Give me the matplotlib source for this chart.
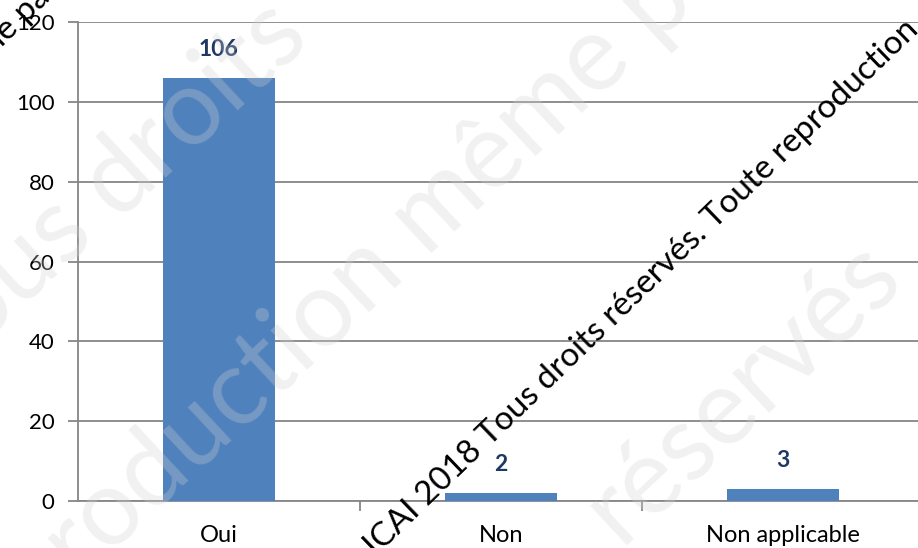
import numpy as np
import matplotlib
matplotlib.use("Agg")
from matplotlib import pyplot as plt

# Data
categories = ["Oui", "Non", "Non applicable"]
values = [106, 2, 3]
y_ticks = [0, 20, 40, 60, 80, 100, 120]

BAR_COLOR = "#4F81BD"
LABEL_COLOR = "#1F3864"
GRID_COLOR = "#868686"

plt.rcParams['font.family'] = ['Lato', 'DejaVu Sans']

fig = plt.figure(figsize=(9.18, 5.48), dpi=100)
ax = fig.add_axes([78 / 918., 47 / 548., 1 - 78 / 918., (501 - 22) / 548.])

x = np.arange(len(categories))
bars = ax.bar(x, values, width=0.4, color=BAR_COLOR, zorder=3)

for xi, v in zip(x, values):
    ax.annotate(str(v), (xi, v), xytext=(0, 13), textcoords="offset points",
                ha="center", va="bottom", fontsize=16.5, fontweight="bold",
                color=LABEL_COLOR, zorder=5)

ax.set_ylim(0, 120)
ax.set_xlim(-0.5, (918 - 78) / 282. - 0.5)
ax.set_yticks(y_ticks)
ax.yaxis.grid(True, color=GRID_COLOR, linewidth=1.3, zorder=1)
ax.set_axisbelow(True)

# category labels at centers, tick marks at boundaries
ax.set_xticks(x)
ax.set_xticklabels(categories, fontsize=17)
ax.set_xticks([0.5, 1.5], minor=True)
ax.tick_params(axis="x", which="major", length=0, pad=17)
ax.tick_params(axis="x", which="minor", length=7, width=1.3, color=GRID_COLOR)
ax.tick_params(axis="y", length=7, width=1.3, color=GRID_COLOR, labelsize=16, pad=10)

for side in ["top", "right"]:
    ax.spines[side].set_visible(False)
for side in ["left", "bottom"]:
    ax.spines[side].set_color(GRID_COLOR)
    ax.spines[side].set_linewidth(1.3)

# faint background watermark (pieces share an anchor: right part / left part)
faint = dict(fontsize=76, color="#d2d2d2", alpha=0.3, rotation=43,
             rotation_mode="anchor", va="baseline", zorder=4,
             transform=fig.transFigure)
fig.text(0.465, 0.529, "reproduction ", ha="right", **faint)
fig.text(0.465, 0.529, "même partielle", ha="left", **faint)
fig.text(0.127, 0.599, "Tous ", ha="right", **faint)
fig.text(0.127, 0.599, "droits", ha="left", **faint)
fig.text(0.675, 0.005, "réservés", ha="left", **faint)

# black diagonal watermark
wm = dict(fontsize=24, color="black", rotation=44, rotation_mode="anchor",
          va="baseline", zorder=6, transform=fig.transFigure)
fig.text(0.466, 0.075, "ICAI ", ha="right", **wm)
fig.text(0.466, 0.075, "2018 Tous droits réservés. Toute reproduction", ha="left", **wm)
fig.text(0.022, 0.945, "Toute reproduction même", ha="right", **wm)
fig.text(0.022, 0.945, " partielle", ha="left", **wm)

plt.savefig("out.png", dpi=100)
